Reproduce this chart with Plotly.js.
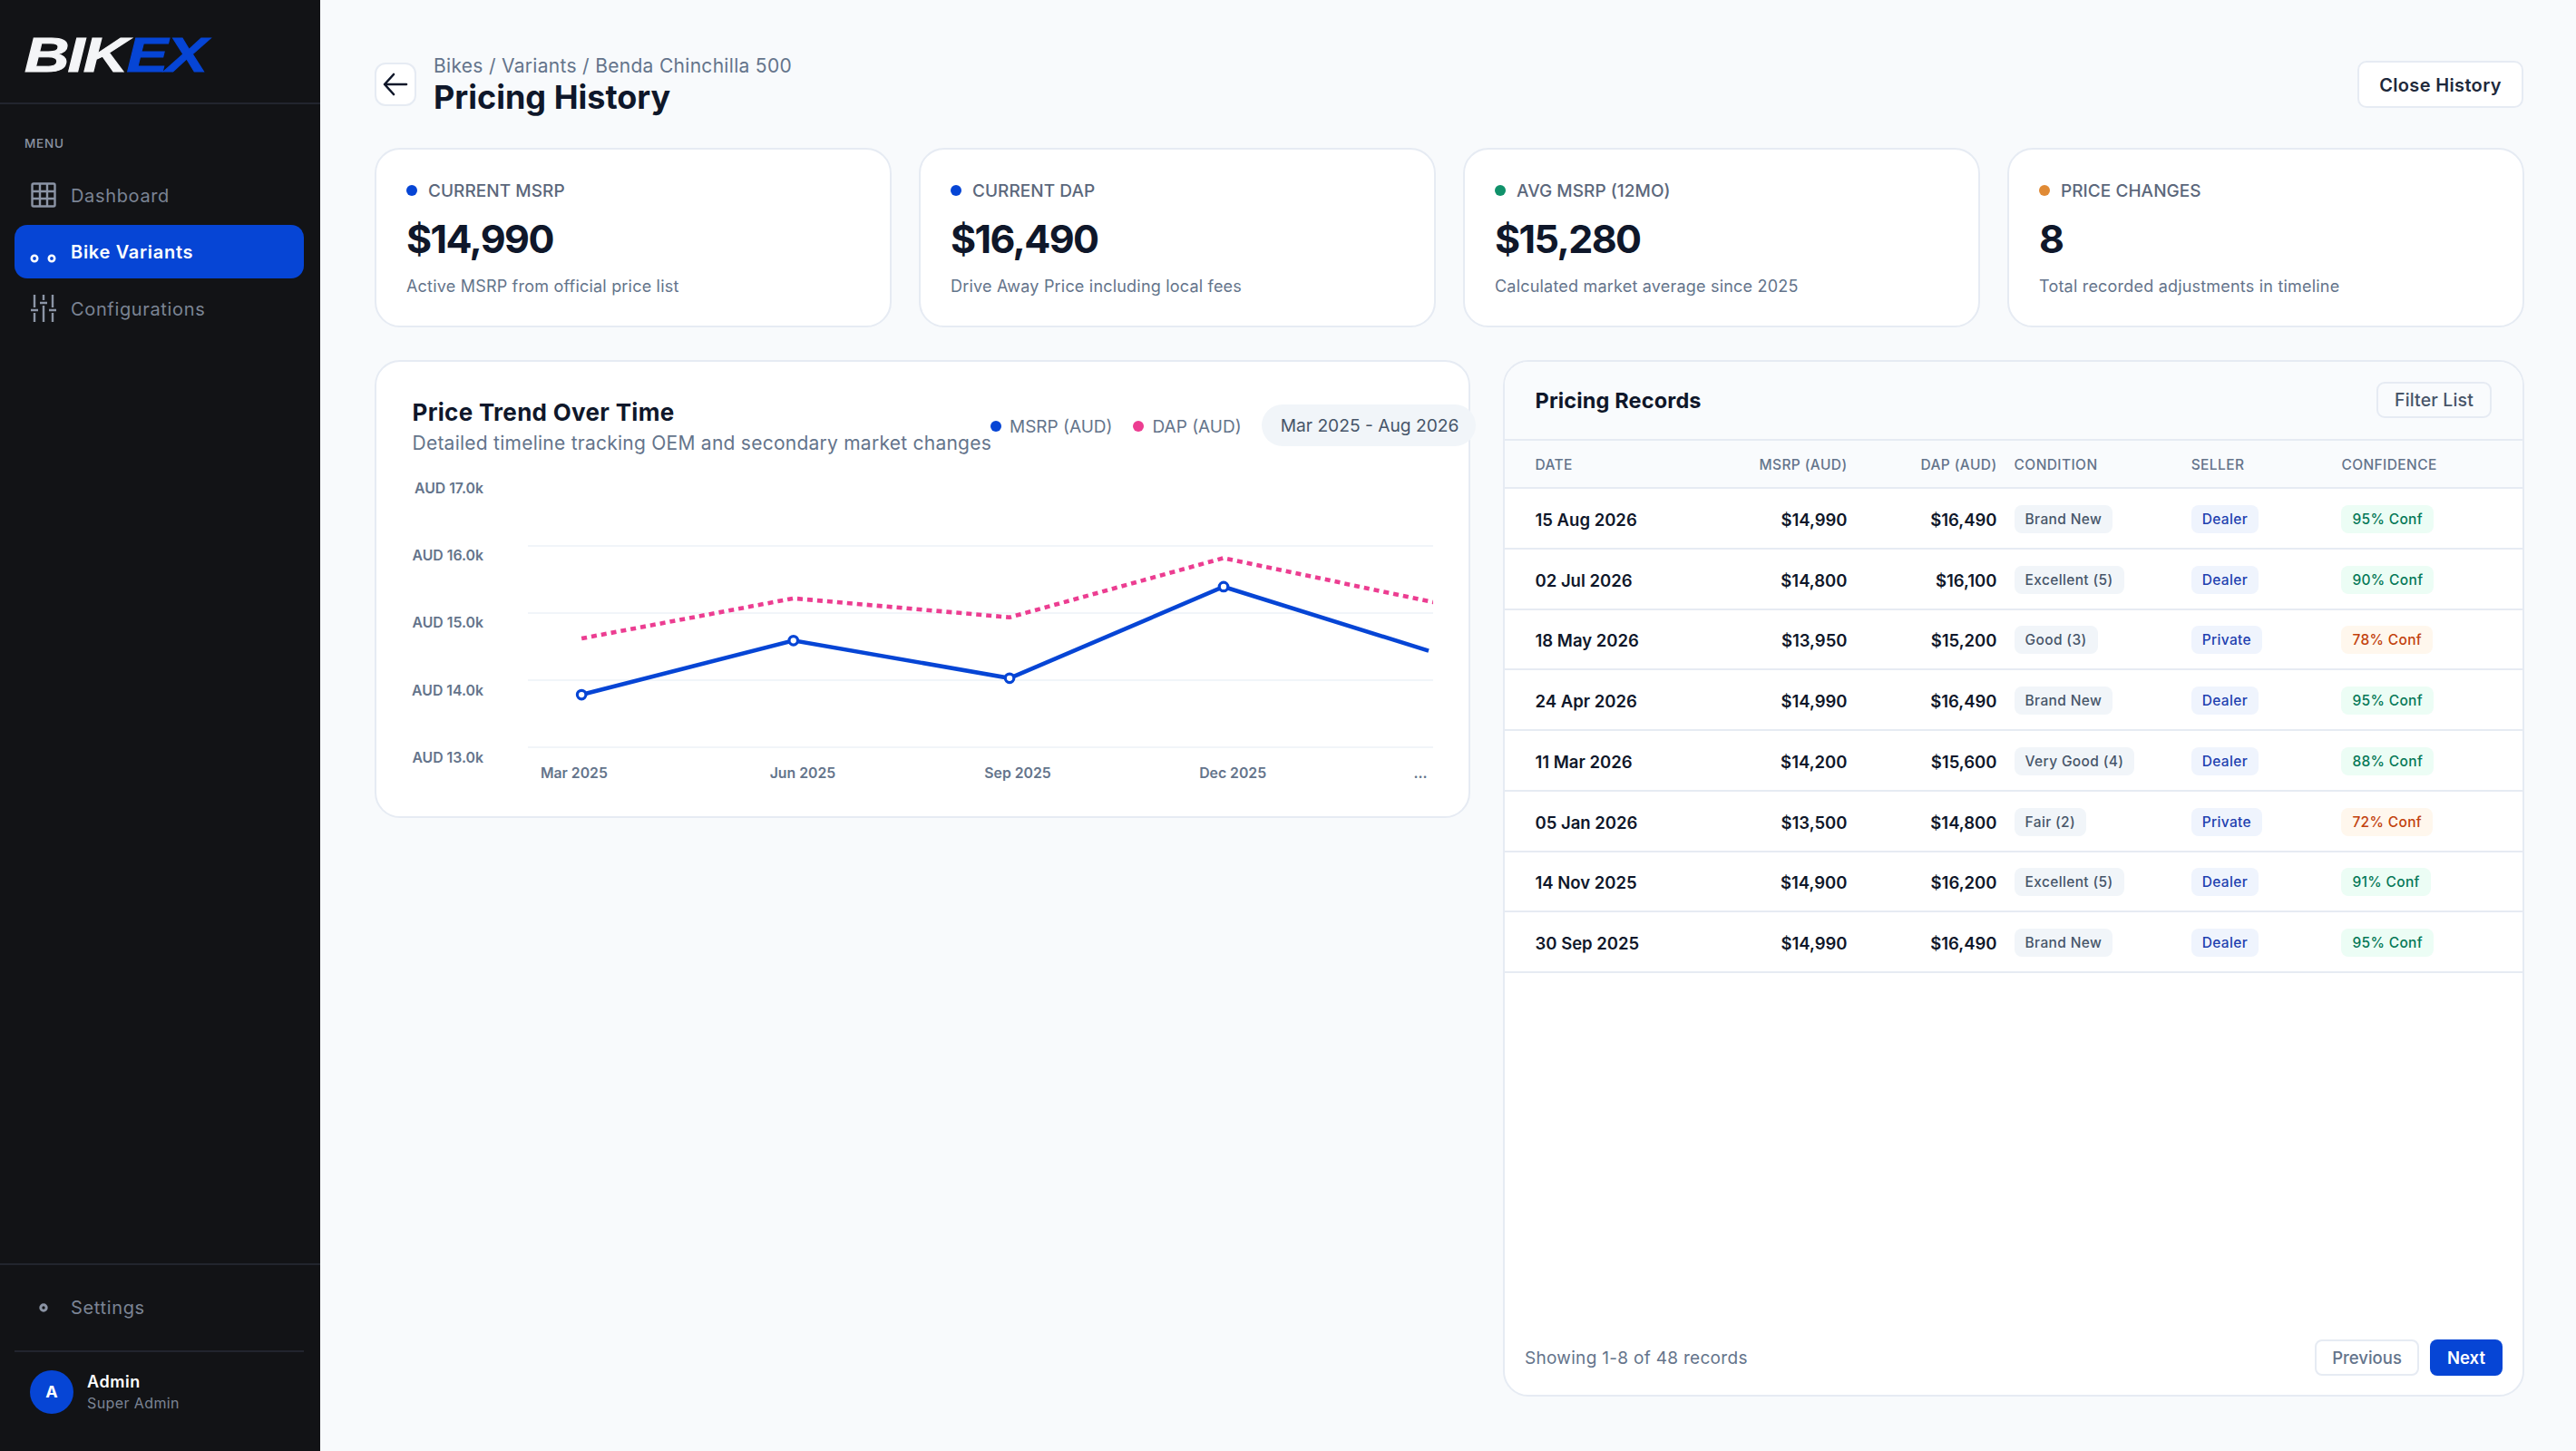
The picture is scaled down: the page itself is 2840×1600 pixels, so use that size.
<!DOCTYPE html>
<html><head><meta charset="utf-8">
<script src="https://cdn.plot.ly/plotly-3.0.1.min.js"></script>
<style>
html,body{margin:0;padding:0;width:2840px;height:1600px;overflow:hidden;background:#f8fafc;font-family:Inter,"Noto Sans",sans-serif;}
.a{position:absolute;box-sizing:border-box;}
.t{position:absolute;white-space:nowrap;line-height:1;transform:translateY(-50%);}
.r{transform:translate(-100%,-50%);}
.c{transform:translate(-50%,-50%);}
.card{position:absolute;box-sizing:border-box;background:#fff;border:2px solid #e6ebf3;}
.badge{position:absolute;box-sizing:border-box;height:31px;line-height:31px;border-radius:8px;padding:0 12px;font-size:15.5px;font-weight:500;letter-spacing:.35px;white-space:nowrap;}
</style></head><body>
<div class="a" style="left:0;top:0;width:353px;height:1600px;background:#121316;"></div>
<div class="a" style="left:0;top:113px;width:353px;height:2px;background:#22252e;"></div>
<div class="t" style="left:27px;top:59.5px;font:italic 900 54px 'Liberation Sans';letter-spacing:-1.5px;-webkit-text-stroke:1px currentColor;transform:translateY(-50%) scaleX(1.27);transform-origin:left center;color:#f4f5f7;">BIK<span style="color:#0645d5;">EX</span></div>
<div class="t" style="left:27px;top:159px;font-size:13.5px;font-weight:500;color:#8b93a3;letter-spacing:.8px;">MENU</div>
<svg class="a" style="left:34px;top:201px;" width="28" height="28" viewBox="0 0 28 28" fill="none" stroke="#8b94a5" stroke-width="2.4"><rect x="1.5" y="1.5" width="25" height="25" rx="1.5"/><path d="M1.5 10h25M1.5 18h25M10 1.5v25M18 1.5v25"/></svg>
<div class="t" style="left:78px;top:216px;font-size:20px;letter-spacing:.65px;color:#7b8494;">Dashboard</div>
<div class="a" style="left:16px;top:248px;width:319px;height:59px;border-radius:14px;background:#0645d5;"></div>
<svg class="a" style="left:32px;top:278px;" width="32" height="14" viewBox="0 0 32 14" fill="none" stroke="#fff" stroke-width="2.6"><circle cx="6" cy="7" r="3.2"/><circle cx="25" cy="7" r="3.2"/></svg>
<div class="t" style="left:78px;top:278px;font-size:20px;font-weight:600;letter-spacing:.7px;color:#fff;">Bike Variants</div>
<svg class="a" style="left:33px;top:324px;" width="30" height="31" viewBox="0 0 30 31" fill="none" stroke="#8b94a5" stroke-width="2.4"><path d="M5 1v14M5 21v10M15 1v6M15 13v18M25 1v14M25 21v10M1 18h8M11 10h8M21 18h8"/></svg>
<div class="t" style="left:78px;top:341px;font-size:20px;letter-spacing:.65px;color:#7b8494;">Configurations</div>
<div class="a" style="left:0;top:1393px;width:353px;height:1.5px;background:#22252e;"></div>
<svg class="a" style="left:42px;top:1436px;" width="12" height="12" viewBox="0 0 12 12" fill="none" stroke="#8b94a5" stroke-width="3"><circle cx="6" cy="6" r="3.2"/></svg>
<div class="t" style="left:78px;top:1442px;font-size:20px;letter-spacing:.65px;color:#7b8494;">Settings</div>
<div class="a" style="left:16px;top:1489px;width:319px;height:1.5px;background:#22252e;"></div>
<div class="a" style="left:33px;top:1511px;width:48px;height:48px;border-radius:50%;background:#0645d5;"></div>
<div class="t c" style="left:57px;top:1535px;font-size:18px;font-weight:700;color:#fff;">A</div>
<div class="t" style="left:96px;top:1524px;font-size:18px;font-weight:600;letter-spacing:.6px;color:#fff;">Admin</div>
<div class="t" style="left:96px;top:1547px;font-size:16px;letter-spacing:.4px;color:#7b8494;">Super Admin</div>

<div class="card" style="left:413px;top:69px;width:46px;height:48px;border-radius:12px;"></div>
<svg class="a" style="left:421px;top:78px;" width="30" height="30" viewBox="0 0 30 30" fill="none" stroke="#0f172a" stroke-width="2.6" stroke-linecap="round" stroke-linejoin="round"><path d="M27 15H3M13 4L3 15l10 11"/></svg>
<div class="t" style="left:478px;top:72px;font-size:21px;letter-spacing:.3px;color:#64748b;">Bikes / Variants / Benda Chinchilla 500</div>
<div class="t" style="left:478px;top:107px;font-size:36px;font-weight:700;color:#0f172a;">Pricing History</div>
<div class="card" style="left:2599px;top:67px;width:183px;height:52px;border-radius:10px;"></div>
<div class="t c" style="left:2690.5px;top:93.5px;font-size:20px;font-weight:600;letter-spacing:.35px;color:#1e293b;">Close History</div>

<div id="kpis"></div>

<div class="card" style="left:413px;top:397px;width:1208px;height:505px;border-radius:28px;"></div>
<div class="t" style="left:454.5px;top:455px;font-size:26px;font-weight:700;color:#0f172a;letter-spacing:.3px;">Price Trend Over Time</div>
<div class="t" style="left:454.5px;top:488px;font-size:21px;letter-spacing:.25px;color:#64748b;">Detailed timeline tracking OEM and secondary market changes</div>
<div class="a" id="dotA" style="left:1091.5px;top:464px;width:12px;height:12px;border-radius:50%;background:#0645d5;"></div>
<div class="t" id="legA" style="left:1113px;top:470px;font-size:19px;color:#64748b;"></div>
<div class="a" id="dotB" style="left:1249px;top:464px;width:12px;height:12px;border-radius:50%;background:#ec3d91;"></div>
<div class="t" id="legB" style="left:1270.5px;top:470px;font-size:19px;color:#64748b;"></div>
<div class="a" style="left:1391px;top:446px;width:236px;height:46px;border-radius:23px;background:#f1f5f9;"></div>
<div class="t c" style="left:1510px;top:470px;font-size:19.2px;color:#475569;">Mar 2025 - Aug 2026</div>
<div id="chart" class="a" style="left:414px;top:397px;width:1206px;height:504px;"></div>

<div class="card" style="left:1657px;top:397px;width:1126px;height:1143px;border-radius:28px;overflow:hidden;">
  <div class="a" style="left:0;top:0;width:100%;height:139px;background:#f9fbfd;"></div>
</div>
<div class="a" style="left:1659px;top:484px;width:1122px;height:2px;background:#e6ebf3;"></div>
<div class="a" style="left:1659px;top:537px;width:1122px;height:2px;background:#e6ebf3;"></div>
<div class="t" style="left:1692.5px;top:441.5px;font-size:23.5px;font-weight:700;color:#0f172a;letter-spacing:.15px;">Pricing Records</div>
<div class="card" style="left:2620px;top:421px;width:127px;height:40px;border-radius:9px;background:#f9fbfd;"></div>
<div class="t c" style="left:2683.5px;top:441.5px;font-size:19.5px;font-weight:500;letter-spacing:.15px;color:#475569;">Filter List</div>
<div id="table"></div>
<div class="t" style="left:1681px;top:1497px;font-size:19px;letter-spacing:.3px;color:#64748b;">Showing 1-8 of 48 records</div>
<div class="card" style="left:2552px;top:1477px;width:115px;height:40px;border-radius:8px;"></div>
<div class="t c" style="left:2609.5px;top:1497px;font-size:18.5px;font-weight:500;color:#64748b;">Previous</div>
<div class="a" style="left:2679px;top:1477px;width:80px;height:40px;border-radius:8px;background:#0645d5;"></div>
<div class="t c" style="left:2719px;top:1497px;font-size:18.5px;font-weight:600;color:#fff;">Next</div>

<script>
// ---- chart data ----
const periods = ["Mar 2025","Jun 2025","Sep 2025","Dec 2025","..."];
const msrpSteps = [0,0.99,2,3,3.958];
const dapSteps = [0,0.99,2,3,4];
const msrpTrend = [13785,14590,14030,15390,14437];
const dapTrend  = [14621,15217,14935,15817,15146];
const yTickValues = [17000,16000,15000,14000,13000];
const yTickLabels = ["AUD 17.0k","AUD 16.0k","AUD 15.0k","AUD 14.0k","AUD 13.0k"];
const gridValues = [16000,15000,14000,13000];
const seriesNames = ["MSRP (AUD)","DAP (AUD)"];

// ---- KPI data ----
const kpiLabels = ["CURRENT MSRP","CURRENT DAP","AVG MSRP (12MO)","PRICE CHANGES"];
const kpiValues = ["$14,990","$16,490","$15,280","8"];
const kpiNotes = ["Active MSRP from official price list","Drive Away Price including local fees","Calculated market average since 2025","Total recorded adjustments in timeline"];
const kpiDots = ["#0645d5","#0645d5","#10916a","#e08a35"];

// ---- table data ----
const tableHeads = ["DATE","MSRP (AUD)","DAP (AUD)","CONDITION","SELLER","CONFIDENCE"];
const dates = ["15 Aug 2026","02 Jul 2026","18 May 2026","24 Apr 2026","11 Mar 2026","05 Jan 2026","14 Nov 2025","30 Sep 2025"];
const msrpCol = ["$14,990","$14,800","$13,950","$14,990","$14,200","$13,500","$14,900","$14,990"];
const dapCol = ["$16,490","$16,100","$15,200","$16,490","$15,600","$14,800","$16,200","$16,490"];
const conditions = ["Brand New","Excellent (5)","Good (3)","Brand New","Very Good (4)","Fair (2)","Excellent (5)","Brand New"];
const sellers = ["Dealer","Dealer","Private","Dealer","Dealer","Private","Dealer","Dealer"];
const confidence = [95,90,78,95,88,72,91,95];

// page furniture
const kpiX=[413,1013,1613,2213];
let h='';
kpiLabels.forEach((l,i)=>{const x=kpiX[i];
 h+=`<div class="card" style="left:${x}px;top:163px;width:570px;height:198px;border-radius:28px;"></div>`+
 `<div class="a" style="left:${x+35}px;top:204px;width:12px;height:12px;border-radius:50%;background:${kpiDots[i]};"></div>`+
 `<div class="t" style="left:${x+59}px;top:210px;font-size:19px;font-weight:500;letter-spacing:.05px;color:#5b677b;">${l}</div>`+
 `<div class="t" style="left:${x+35}px;top:263px;font-size:43px;font-weight:700;color:#0f172a;letter-spacing:-1.6px;">${kpiValues[i]}</div>`+
 `<div class="t" style="left:${x+35}px;top:315.5px;font-size:18px;letter-spacing:.2px;color:#64748b;">${kpiNotes[i]}</div>`;
});
document.getElementById('kpis').innerHTML=h;

const colX=[1692.5,2036.5,2201.5,2220.6,2415.7,2581.4];
h='';
tableHeads.forEach((l,i)=>{
 h+=`<div class="t ${i==1||i==2?'r':''}" style="left:${colX[i]}px;top:512.5px;font-size:15.5px;font-weight:500;letter-spacing:.4px;color:#64748b;">${l}</div>`;
});
dates.forEach((d,i)=>{
 const cy=572.4+66.75*i;
 const low=confidence[i]<80;
 h+=`<div class="a" style="left:1659px;top:${538+66.75*(i+1)-1}px;width:1122px;height:2px;background:#e6ebf3;"></div>`+
 `<div class="t" style="left:${colX[0]}px;top:${cy+0.5}px;font-size:18.5px;font-weight:600;color:#0f172a;">${d}</div>`+
 `<div class="t r" style="left:${colX[1]}px;top:${cy+0.5}px;font-size:18.5px;font-weight:600;color:#0f172a;">${msrpCol[i]}</div>`+
 `<div class="t r" style="left:${colX[2]}px;top:${cy+0.5}px;font-size:18.5px;font-weight:600;color:#0f172a;">${dapCol[i]}</div>`+
 `<div class="badge" style="left:${colX[3]}px;top:${cy-15.5}px;background:#f1f5f9;color:#475569;">${conditions[i]}</div>`+
 `<div class="badge" style="left:${colX[4]}px;top:${cy-15.5}px;background:#eff4fd;color:#1e40af;">${sellers[i]}</div>`+
 `<div class="badge" style="left:${colX[5]}px;top:${cy-15.5}px;background:${low?'#fff7ed':'#ecfdf5'};color:${low?'#c2410c':'#047857'};">${confidence[i]}% Conf</div>`;
});
document.getElementById('table').innerHTML=h;
document.getElementById('legA').textContent=seriesNames[0];
document.getElementById('legB').textContent=seriesNames[1];

// chart
const tickFont={family:'Inter, sans-serif',size:15.8,color:'#64748b',weight:600};
const yLo=12788,yHi=17236,labelShift=148;
const traces=[
 {x:dapSteps,y:dapTrend,name:seriesNames[1],type:'scatter',mode:'lines',line:{color:'#ec3d91',width:4.6,dash:'6px,5px'},hoverinfo:'skip',showlegend:false},
 {x:msrpSteps,y:msrpTrend,name:seriesNames[0],type:'scatter',mode:'lines+markers',line:{color:'#0645d5',width:4.6},
  marker:{size:[9.5,9.5,9.5,9.5,0],opacity:1,color:'#ffffff',line:{color:'#0645d5',width:[3.2,3.2,3.2,3.2,0]}},hoverinfo:'skip',showlegend:false},
 {x:msrpSteps,y:msrpTrend,yaxis:'y2',type:'scatter',mode:'none',hoverinfo:'skip',showlegend:false}
];
Plotly.newPlot('chart',traces,{
 width:1206,height:504,margin:{l:168,r:40,t:113,b:61,pad:0},
 paper_bgcolor:'rgba(0,0,0,0)',plot_bgcolor:'rgba(0,0,0,0)',showlegend:false,
 xaxis:{range:[-0.2508,3.979],tickmode:'array',tickvals:[-0.035,1.033,2.038,3.043,3.92],ticktext:periods,
   tickfont:tickFont,showgrid:false,zeroline:false,showline:false,ticks:'',ticklabelstandoff:1,fixedrange:true},
 yaxis:{range:[yLo,yHi],tickmode:'array',tickvals:gridValues,showticklabels:false,showgrid:true,
   gridcolor:'#f1f5f9',gridwidth:2,zeroline:false,showline:false,ticks:'',fixedrange:true},
 yaxis2:{overlaying:'y',side:'left',range:[yLo+labelShift,yHi+labelShift],tickmode:'array',tickvals:yTickValues,ticktext:yTickLabels,
   tickfont:tickFont,showgrid:false,zeroline:false,showline:false,ticks:'',ticklabelstandoff:48,fixedrange:true}
},{displayModeBar:false,staticPlot:true});
</script>
</body></html>
